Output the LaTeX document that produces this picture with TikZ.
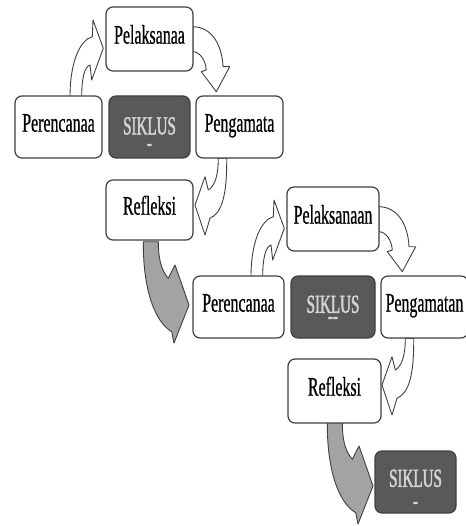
\documentclass[tikz,border=0pt]{standalone}
\usepackage{fontspec}
\setmainfont{Liberation Serif}[FakeStretch=0.59, FakeBold=0.6]
\newfontfamily\sikfont{Liberation Serif}[FakeStretch=0.58, FakeBold=1.6]
\usetikzlibrary{backgrounds}
\definecolor{boxline}{HTML}{404040}
\definecolor{sikfill}{HTML}{595959}
\definecolor{siktext}{HTML}{D4D4D4}
\definecolor{garrowfill}{HTML}{A3A3A3}
\begin{document}
\begin{tikzpicture}[x=1pt,y=-1pt,
  stepbox/.style={draw=boxline, fill=white, rounded corners=7pt, line width=1.2pt,
    font=\fontsize{27}{30}\selectfont, text height=18pt, text depth=8.6pt, inner sep=0pt},
  sikbox/.style={draw=boxline, fill=sikfill, rounded corners=7pt, line width=1.2pt, inner sep=0pt},
  siklabel/.style={text=siktext, font=\sikfont\fontsize{26}{#1}\selectfont, inner sep=0pt, align=center},
  warrow/.style={draw=boxline, fill=white, line width=0.9pt, line join=round},
  garrow/.style={draw=boxline, fill=garrowfill, line width=0.9pt, line join=round}]
\useasboundingbox (0,0) rectangle (465,526);

% ---------- cycle 1 ----------
\node[stepbox, minimum width=87pt, minimum height=64pt] (pel1) at (149.5,39) {Pelaksanaa};
\node[stepbox, minimum width=87pt, minimum height=62pt] (per1) at (58.5,127) {Perencanaa};
\node[sikbox, minimum width=81pt, minimum height=62pt] (sik1) at (149.5,127) {};
\node[stepbox, minimum width=87pt, minimum height=62pt] (pen1) at (239.5,127) {Pengamata};
\node[stepbox, minimum width=87pt, minimum height=60pt] (ref1) at (149.5,210) {Refleksi};
\node[siklabel=16.7] (sik1a) at (149.5,134.15) {SIKLUS\\-};

% ---------- cycle 2 ----------
\node[stepbox, minimum width=92pt, minimum height=64pt] (pel2) at (333,219) {Pelaksanaan};
\node[stepbox, minimum width=91pt, minimum height=62pt] (per2) at (238.5,307) {Perencanaa};
\node[sikbox, minimum width=84pt, minimum height=62pt] (sik2) at (333,307) {};
\node[stepbox, minimum width=87pt, minimum height=62pt] (pen2) at (424.5,307) {Pengamatan};
\node[stepbox, minimum width=93pt, minimum height=64pt] (ref2) at (334.5,391) {Refleksi};
\node[siklabel=11.3] (sik2a) at (333,309.85) {SIKLUS\\-{}-};

% ---------- cycle 3 ----------
\node[sikbox, minimum width=81pt, minimum height=62pt] (sik3) at (415.5,482) {};
\node[siklabel=22.3] (sik3a) at (415.5,489.35) {SIKLUS\\-};

\begin{scope}[on background layer]
  % cycle 1 arrows
  \draw[warrow] (70,96.7) .. controls (70,62) and (80,40) .. (92.3,36.7) -- (93,20) -- (103.3,48.3)
    -- (91.7,80) -- (90,65) .. controls (84,67) and (81.7,80) .. (81.7,96.7) -- cycle;
  \draw[warrow] (193,26.7) .. controls (212,27) and (222,45) .. (223,66.7) -- (229.7,66.7) -- (216.3,91.7)
    -- (201.3,71.7) -- (206.3,70) .. controls (205.5,60) and (200,52) .. (193,51.7) -- cycle;
  \draw[warrow] (226.7,158.3) .. controls (227,195) and (222,213) .. (210,218.3) -- (205,235) -- (195,205)
    -- (205,176.7) -- (208.3,190) .. controls (215,186) and (218.3,175) .. (218.3,158.3) -- cycle;
  \draw[garrow] (143.3,241.7) .. controls (143,290) and (155,322) .. (171.7,331.7) -- (174,343) -- (189,305)
    -- (175,265) -- (168.3,278.3) .. controls (161,270) and (158.3,258) .. (158.3,241.7) -- cycle;
  % cycle 2 arrows
  \begin{scope}[shift={(181,180)}]
    \draw[warrow] (70,96.7) .. controls (70,62) and (80,40) .. (92.3,36.7) -- (93,20) -- (103.3,48.3)
      -- (91.7,80) -- (90,65) .. controls (84,67) and (81.7,80) .. (81.7,96.7) -- cycle;
  \end{scope}
  \begin{scope}[shift={(186,180)}]
    \draw[warrow] (193,26.7) .. controls (212,27) and (222,45) .. (223,66.7) -- (229.7,66.7) -- (216.3,91.7)
      -- (201.3,71.7) -- (206.3,70) .. controls (205.5,60) and (200,52) .. (193,51.7) -- cycle;
  \end{scope}
  \begin{scope}[shift={(187,180)}]
    \draw[warrow] (226.7,158.3) .. controls (227,195) and (222,213) .. (210,218.3) -- (205,235) -- (195,205)
      -- (205,176.7) -- (208.3,190) .. controls (215,186) and (218.3,175) .. (218.3,158.3) -- cycle;
  \end{scope}
  \begin{scope}[shift={(184,181)}]
    \draw[garrow] (143.3,241.7) .. controls (143,290) and (155,322) .. (171.7,331.7) -- (174,343) -- (189,305)
      -- (175,265) -- (168.3,278.3) .. controls (161,270) and (158.3,258) .. (158.3,241.7) -- cycle;
  \end{scope}
\end{scope}
\end{tikzpicture}
\end{document}
